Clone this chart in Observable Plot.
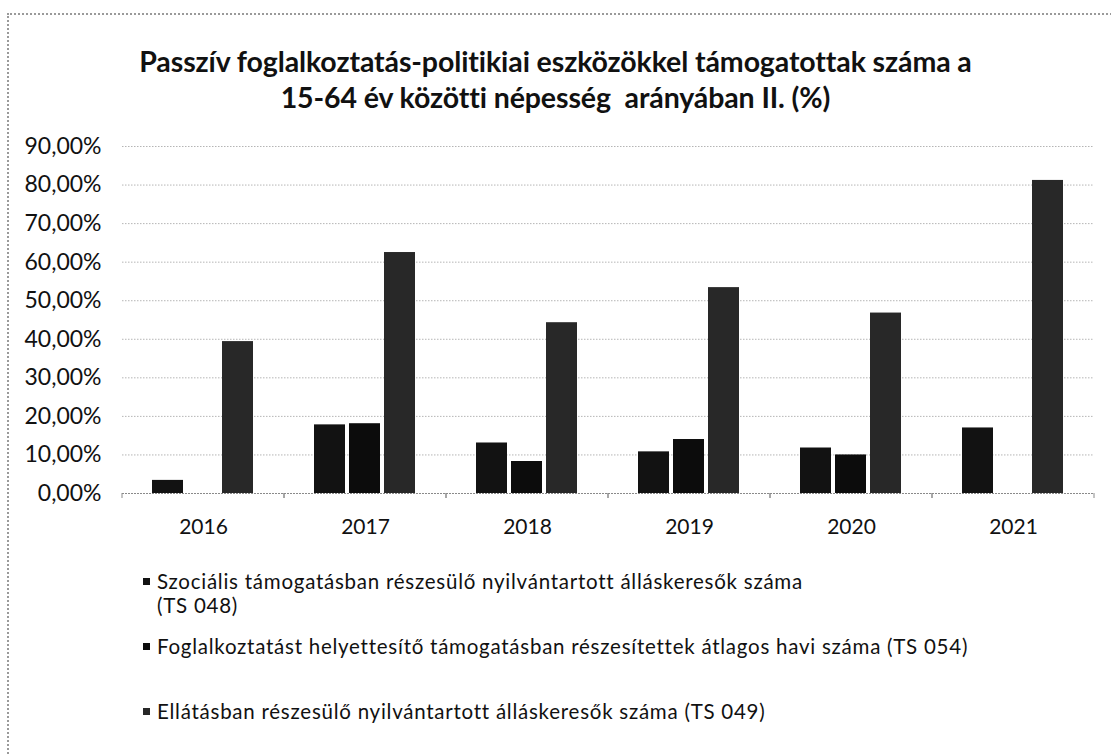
<!DOCTYPE html>
<html>
<head>
<meta charset="utf-8">
<script src="https://cdn.jsdelivr.net/npm/d3@7"></script>
<script src="https://cdn.jsdelivr.net/npm/@observablehq/plot@0.6"></script>
<style>
  html, body { margin: 0; padding: 0; background: #fff; }
  #page { position: relative; width: 1111px; height: 756px; overflow: hidden; font-family: Lato, "Open Sans", sans-serif; color: #111; }
  #frame { position: absolute; left: 7px; top: 13px; right: -5px; bottom: -5px; border-left: 2px dotted #9a9a9a; border-top: 2px dotted #9a9a9a; }
  #title { position: absolute; left: 0; width: 1111px; top: 43px; text-align: center; font-weight: bold; font-size: 28.5px; line-height: 36px; letter-spacing: -0.1px; }
  #chart { position: absolute; left: 0; top: 120px; }
  #legend { position: absolute; left: 143px; top: 569px; font-size: 20.5px; line-height: 24px; letter-spacing: 0.75px; }
  .item { position: relative; padding-left: 14px; white-space: pre-line; }
  .sw { position: absolute; left: 0; top: 9px; width: 7px; height: 7px; }
</style>
</head>
<body>
<div id="page">
  <div id="frame"></div>
  <div id="title"></div>
  <div id="chart"></div>
  <div id="legend"></div>
</div>
<script>
const titleLines = [
  "Passzív foglalkoztatás-politikiai eszközökkel támogatottak száma a",
  "15-64 év közötti népesség\u00a0 arányában II. (%)"
];
const years = ["2016", "2017", "2018", "2019", "2020", "2021"];
const seriesNames = [
  "Szociális támogatásban részesülő nyilvántartott álláskeresők száma\n(TS 048)",
  "Foglalkoztatást helyettesítő támogatásban részesítettek átlagos havi száma (TS 054)",
  "Ellátásban részesülő nyilvántartott álláskeresők száma (TS 049)"
];
const seriesColors = ["#121212", "#0c0c0c", "#282828"];
const ts048 = [0.034, 0.178, 0.131, 0.108, 0.118, 0.170];
const ts054 = [null, 0.181, 0.083, 0.140, 0.100, null];
const ts049 = [0.394, 0.625, 0.443, 0.534, 0.468, 0.812];
const yTicks = [0, 0.1, 0.2, 0.3, 0.4, 0.5, 0.6, 0.7, 0.8, 0.9];
const legendGaps = [0, 17, 41];

const seriesValues = [ts048, ts054, ts049];
const data = [];
years.forEach((yr, i) => {
  seriesValues.forEach((vals, s) => {
    if (vals[i] != null) data.push({year: yr, series: s, value: vals[i]});
  });
});

document.getElementById("title").innerHTML = titleLines.map(t => `<div>${t}</div>`).join("");

const fmt = d => (d * 100).toFixed(2).replace(".", ",") + "%";

const sepTicks = (index, scales, values, dimensions) => {
  const g = document.createElementNS("http://www.w3.org/2000/svg", "g");
  const y0 = scales.y(0);
  const xs = [dimensions.marginLeft, dimensions.width - dimensions.marginRight];
  for (const x of xs) {
    const l = document.createElementNS("http://www.w3.org/2000/svg", "line");
    l.setAttribute("x1", x); l.setAttribute("x2", x);
    l.setAttribute("y1", y0); l.setAttribute("y2", y0 + 5);
    l.setAttribute("stroke", "#8a8a8a");
    l.setAttribute("stroke-width", 1);
    g.appendChild(l);
  }
  return g;
};

const chart = Plot.plot({
  width: 1111,
  height: 440,
  marginLeft: 121,
  marginRight: 17,
  marginTop: 26,
  marginBottom: 67,
  style: {fontFamily: "Lato, 'Open Sans', sans-serif", fontSize: "22px", color: "#111", background: "transparent", overflow: "visible"},
  fx: {domain: years, paddingInner: 0, paddingOuter: 0, label: null},
  x: {domain: [0, 1, 2], paddingInner: 0.11, paddingOuter: 0.806, axis: null},
  y: {domain: [0, 0.9], axis: null},
  color: {domain: [0, 1, 2], range: seriesColors},
  marks: [
    Plot.ruleY(yTicks.slice(1), {stroke: "#b5b5b5", strokeWidth: 1, strokeDasharray: "1.5,1.5"}),
    Plot.ruleY([0], {stroke: "#8a8a8a", strokeWidth: 1, strokeDasharray: "2,1"}),
    sepTicks,
    Plot.barY(data, {fx: "year", x: "series", y: "value", fill: "series"}),
    Plot.axisY(yTicks, {tickSize: 0, tickPadding: 21, tickFormat: fmt, fontSize: 23, label: null}),
    Plot.axisFx({anchor: "bottom", tickSize: 0, tickPadding: 26, fontSize: 21, label: null})
  ]
});
document.getElementById("chart").appendChild(chart);

const legend = document.getElementById("legend");
seriesNames.forEach((name, i) => {
  const d = document.createElement("div");
  d.className = "item";
  d.style.marginTop = legendGaps[i] + "px";
  d.innerHTML = `<span class="sw" style="background:${seriesColors[i]}"></span>` + name;
  legend.appendChild(d);
});
</script>
</body>
</html>
